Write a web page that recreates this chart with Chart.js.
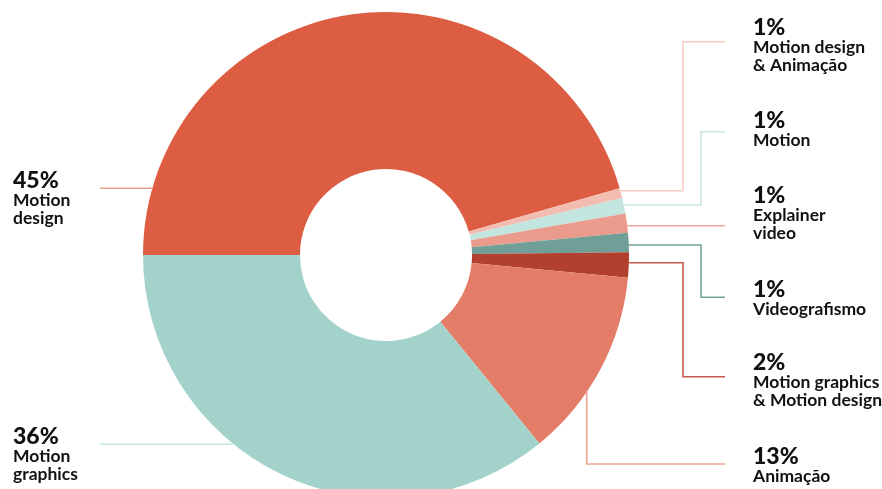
<!DOCTYPE html>
<html>
<head>
<meta charset="utf-8">
<script src="https://cdn.jsdelivr.net/npm/chart.js@4.4.1/dist/chart.umd.min.js"></script>
<style>
  html, body { margin: 0; padding: 0; background: #ffffff; overflow: hidden; width: 882px; height: 489px; }
  #wrap { position: absolute; left: 0; top: 0; width: 882px; height: 530px; }
</style>
</head>
<body>
<div id="wrap"><canvas id="c" width="882" height="530"></canvas></div>
<script>
// ---- data ----
const categories = ['Motion design', 'Motion design & Animação', 'Motion', 'Explainer video',
  'Videografismo', 'Motion graphics & Motion design', 'Animação', 'Motion graphics'];
const shares = [45.6, 0.65, 1.04, 1.28, 1.28, 1.67, 12.64, 35.89];
const pctLabels = ['45%', '1%', '1%', '1%', '1%', '2%', '13%', '36%'];
const nameLines = [['Motion', 'design'], ['Motion design', '& Animação'], ['Motion'], ['Explainer', 'video'],
  ['Videografismo'], ['Motion graphics', '& Motion design'], ['Animação'], ['Motion', 'graphics']];

// ---- styles ----
const sliceColors = ['#dd5d42', '#f3bcb1', '#c3e5df', '#eb9b8c', '#6f9f98', '#b2402f', '#e47d67', '#a3d2ca'];
const lineColors  = ['#e9a08f', '#f5cdc4', '#c9e8e2', '#efaa9d', '#76a39c', '#c25a4b', '#eea293', '#c6e6e0'];

// leader layout
const leader = [
  { side: 'L', y: 188.3, endX: 100 },
  { side: 'R', y: 190.7, elbowX: 683, toY: 41.7, endX: 725 },
  { side: 'R', y: 205, elbowX: 701, toY: 131.7, endX: 725 },
  { side: 'R', y: 225.7, endX: 725 },
  { side: 'R', y: 245, elbowX: 701, toY: 297.3, endX: 725 },
  { side: 'R', y: 262.7, elbowX: 683, toY: 376.7, endX: 725 },
  { side: 'V', x: 586.7, toY: 464, endX: 725 },
  { side: 'L', y: 444.3, endX: 100 }
];
const textPos = [
  { x: 13, y: 187.5 }, { x: 753, y: 35 }, { x: 753, y: 128 }, { x: 753, y: 203 },
  { x: 753, y: 297 }, { x: 753, y: 370 }, { x: 753, y: 464 }, { x: 13, y: 443.5 }
];

const labelPlugin = {
  id: 'leaderLabels',
  afterDraw(chart) {
    const ctx = chart.ctx;
    const arc = chart.getDatasetMeta(0).data[0];
    const cx = arc.x, cy = arc.y, R = arc.outerRadius;
    ctx.save();
    ctx.lineWidth = 1.6;
    leader.forEach((L, i) => {
      ctx.strokeStyle = lineColors[i];
      ctx.beginPath();
      if (L.side === 'L') {
        const sx = cx - Math.sqrt(R * R - (L.y - cy) * (L.y - cy));
        ctx.moveTo(sx + 1, L.y);
        ctx.lineTo(L.endX, L.y);
      } else if (L.side === 'R') {
        const sx = cx + Math.sqrt(R * R - (L.y - cy) * (L.y - cy));
        ctx.moveTo(sx - 1, L.y);
        if (L.elbowX !== undefined) {
          ctx.lineTo(L.elbowX, L.y);
          ctx.lineTo(L.elbowX, L.toY);
          ctx.lineTo(L.endX, L.toY);
        } else {
          ctx.lineTo(L.endX, L.y);
        }
      } else {
        const sy = cy + Math.sqrt(R * R - (L.x - cx) * (L.x - cx));
        ctx.moveTo(L.x, sy - 1);
        ctx.lineTo(L.x, L.toY);
        ctx.lineTo(L.endX, L.toY);
      }
      ctx.stroke();
    });
    ctx.fillStyle = '#111111';
    ctx.textAlign = 'left';
    ctx.textBaseline = 'alphabetic';
    textPos.forEach((p, i) => {
      ctx.font = '900 23px Lato';
      ctx.fillText(pctLabels[i], p.x, p.y);
      ctx.font = 'bold 17.5px Lato';
      nameLines[i].forEach((t, k) => ctx.fillText(t, p.x, p.y + 18.3 + k * 17.8));
    });
    ctx.restore();
  }
};

new Chart(document.getElementById('c'), {
  type: 'doughnut',
  data: {
    labels: categories,
    datasets: [{ data: shares, backgroundColor: sliceColors, borderWidth: 0, hoverOffset: 0, offset: 0 }]
  },
  options: {
    responsive: false,
    animation: false,
    rotation: -90,
    cutout: '35.4%',
    layout: { padding: { left: 143, right: 253, top: 12, bottom: 32 } },
    plugins: { legend: { display: false }, tooltip: { enabled: false } },
    events: []
  },
  plugins: [labelPlugin]
});
</script>
</body>
</html>
